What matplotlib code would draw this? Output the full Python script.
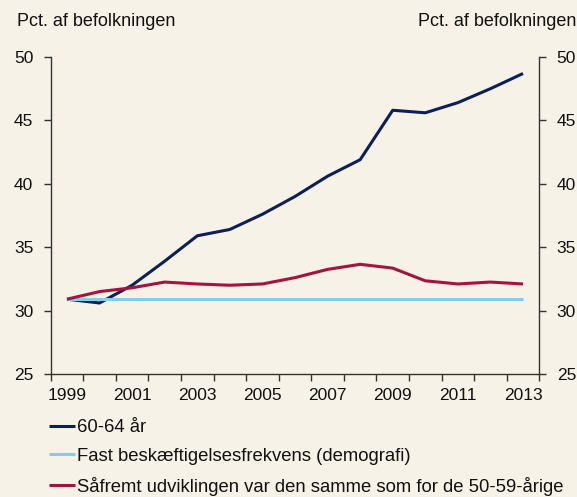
import matplotlib
matplotlib.use("Agg")
import matplotlib.pyplot as plt
import numpy as np

plt.rcParams['font.family'] = ['Liberation Sans', 'DejaVu Sans']

years = list(range(1999, 2014))
age_60_64 = [30.9, 30.6, 32.0, 33.9, 35.9, 36.4, 37.6, 39.0, 40.6, 41.9, 45.8, 45.6, 46.4, 47.5, 48.7]
fixed_rate = [30.9] * 15
same_as_50_59 = [30.9, 31.5, 31.8, 32.25, 32.1, 32.0, 32.1, 32.6, 33.25, 33.65, 33.35, 32.35, 32.1, 32.25, 32.1]
labels = ["60-64 år", "Fast beskæftigelsesfrekvens (demografi)",
          "Såfremt udviklingen var den samme som for de 50-59-årige"]
ylabel_text = "Pct. af befolkningen"
yticks = [25, 30, 35, 40, 45, 50]
xtick_labels = ["1999", "2001", "2003", "2005", "2007", "2009", "2011", "2013"]

bg = "#F6F2E7"
c_navy = "#0D1F57"
c_light = "#84CCEA"
c_red = "#A3143E"
txt = "#111111"

fig = plt.figure(figsize=(5.77, 4.97), dpi=100, facecolor=bg)
ax = fig.add_axes([50.7 / 577, 1 - 374 / 497, (539.3 - 50.7) / 577, (374 - 57) / 497])
ax.set_facecolor(bg)

l1, = ax.plot(years, age_60_64, color=c_navy, lw=2.2, solid_capstyle='butt')
l2, = ax.plot(years, fixed_rate, color=c_light, lw=2.2, solid_capstyle='butt')
l3, = ax.plot(years, same_as_50_59, color=c_red, lw=2.2, solid_capstyle='butt')

ax.set_xlim(1998.5, 2013.5)
ax.set_ylim(25, 50)

ax.spines['top'].set_visible(False)
for s in ['left', 'right', 'bottom']:
    ax.spines[s].set_color('#333333')
    ax.spines[s].set_linewidth(1.0)

fs = 13
tfs = 12.5
ax.set_yticks(yticks)
ax.set_yticklabels([str(t) for t in yticks])
ax.tick_params(axis='y', which='both', direction='out', length=5, width=1, color='#333333',
               labelsize=tfs, left=True, right=True, labelleft=True, labelright=True, pad=7.5)

# Major ticks at category boundaries (no labels), labels at category centres
ax.set_xticks(np.arange(1998.5, 2014.0, 1.0))
ax.set_xticklabels([])
ax.set_xticks([int(t) for t in xtick_labels], minor=True)
ax.set_xticklabels(xtick_labels, minor=True)
ax.tick_params(axis='x', which='major', direction='out', length=5, width=1, color='#333333')
ax.tick_params(axis='x', which='minor', length=0, labelsize=tfs, pad=10)

fig.text(17 / 577, 1 - 26.5 / 497, ylabel_text, fontsize=fs, ha='left', va='baseline', color=txt)
fig.text(576 / 577, 1 - 26.5 / 497, ylabel_text, fontsize=fs, ha='right', va='baseline', color=txt)

for t in ax.get_yticklabels() + ax.get_xticklabels(minor=True):
    t.set_color(txt)

leg = fig.legend([l1, l2, l3], labels, loc='upper left', bbox_to_anchor=(49 / 577, 1 - 419 / 497),
                 frameon=False, fontsize=13.3, handlelength=1.42, handletextpad=0.1,
                 labelspacing=0.64, borderaxespad=0, borderpad=0)
for t in leg.get_texts():
    t.set_color(txt)

fig.savefig("out.png", dpi=100, facecolor=bg)
